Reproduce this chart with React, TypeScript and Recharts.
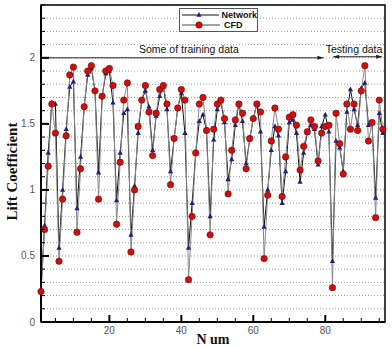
import React from "react";
import {
  LineChart,
  Line,
  XAxis,
  YAxis,
  CartesianGrid,
  ReferenceLine,
  ReferenceArea,
  ReferenceDot,
  Legend,
  Label,
} from "recharts";

// CFD results (red circles)
const cfd = [
  0.23, 0.7, 1.18, 1.65, 1.43, 0.46, 0.93, 1.41, 1.87, 1.93,
  0.68, 1.16, 1.63, 1.9, 1.94, 1.75, 0.93, 1.71, 1.9, 1.92,
  1.79, 0.74, 1.21, 1.68, 1.81, 0.53, 1.0, 1.48, 1.68, 1.79,
  1.59, 1.26, 1.58, 1.76, 1.79, 1.65, 1.04, 1.39, 1.62, 1.76,
  1.68, 0.32, 0.8, 1.28, 1.65, 1.7, 1.45, 0.66, 1.46, 1.65,
  1.68, 1.54, 0.97, 1.3, 1.53, 1.65, 1.58, 1.16, 1.39, 1.54,
  1.65, 1.59, 0.48, 0.96, 1.37, 1.62, 1.46, 0.95, 1.25, 1.55,
  1.57, 1.49, 1.15, 1.33, 1.44, 1.53, 1.48, 1.22, 1.43, 1.48,
  1.49, 0.26, 1.58, 1.35, 1.12, 1.65, 1.46, 1.65, 1.45, 1.75,
  1.94, 1.37, 1.51, 0.79, 1.68, 1.46,
];

// network predictions (blue triangles)
const network = [
  0.25, 0.73, 1.28, 1.66, 1.65, 0.56, 1.0, 1.46, 1.78, 1.82,
  0.86, 1.25, 1.63, 1.87, 1.92, 1.75, 1.13, 1.71, 1.88, 1.9,
  1.66, 0.92, 1.28, 1.58, 1.61, 0.66, 1.03, 1.43, 1.68, 1.75,
  1.63, 1.3, 1.56, 1.71, 1.78, 1.61, 1.14, 1.39, 1.62, 1.73,
  1.43, 0.56, 0.9, 1.28, 1.52, 1.57, 1.45, 0.8, 1.38, 1.61,
  1.67, 1.51, 1.08, 1.23, 1.49, 1.65, 1.52, 1.2, 1.38, 1.54,
  1.65, 1.44, 0.72, 1.0, 1.3, 1.48, 1.41, 0.9, 1.14, 1.51,
  1.53, 1.43, 1.06, 1.28, 1.43, 1.49, 1.46, 1.19, 1.48, 1.57,
  1.44, 0.46, 1.37, 1.32, 1.14, 1.59, 1.76, 1.61, 1.49, 1.77,
  1.81, 1.49, 1.51, 0.94, 1.58, 1.43,
];

const nums = cfd.map((_, i) => i + 1);

const xTicks = [5, 10, 15, 20, 25, 30, 35, 40, 45, 50, 55, 60, 65, 70, 75, 80, 85, 90, 95];
const xLabels = [20, 40, 60, 80];
const yTicks = [
  0, 0.1, 0.2, 0.3, 0.4, 0.5, 0.6, 0.7, 0.8, 0.9, 1, 1.1, 1.2,
  1.3, 1.4, 1.5, 1.6, 1.7, 1.8, 1.9, 2, 2.1, 2.2, 2.3, 2.4,
];
const yLabels = [0, 0.5, 1, 1.5, 2];

const data = nums.map((num, i) => ({ num, network: network[i], cfd: cfd[i] }));

const SANS = "'Liberation Sans', Arial, sans-serif";
const SERIF = "'Liberation Serif', 'Times New Roman', serif";

const XTick = (props: any) => {
  const { x, y, payload } = props;
  const major = xLabels.includes(payload.value);
  return (
    <g>
      <line x1={x} x2={x} y1={y} y2={y - (major ? 7 : 4)} stroke="#000" strokeWidth={major ? 2 : 1} />
      {major && (
        <text x={x} y={y + 12} textAnchor="middle" fontSize={10} fill="#555" fontFamily={SANS}>
          {payload.value}
        </text>
      )}
    </g>
  );
};

const YTick = (props: any) => {
  const { x, y, payload } = props;
  const major = yLabels.includes(payload.value);
  return (
    <g>
      <line x1={x} x2={x + (major ? 8 : 4)} y1={y} y2={y} stroke="#000" strokeWidth={major ? 2 : 1} />
      {major && (
        <text x={x - 6} y={y + 3.5} textAnchor="end" fontSize={10} fill="#555" fontFamily={SANS}>
          {payload.value}
        </text>
      )}
    </g>
  );
};

const Triangle = (props: any) => {
  const { cx, cy, index } = props;
  if (cx == null || cy == null) return <g key={`t-${index}`} />;
  return (
    <path
      key={`t-${index}`}
      d={`M${cx},${cy - 3} L${cx + 2.6},${cy + 1.8} L${cx - 2.6},${cy + 1.8} Z`}
      fill="#1f1f80"
    />
  );
};

const RedDot = (props: any) => {
  const { cx, cy, index } = props;
  if (cx == null || cy == null) return <g key={`c-${index}`} />;
  return <circle key={`c-${index}`} cx={cx} cy={cy} r={3.2} fill="#cc1010" stroke="#700" strokeWidth={0.6} />;
};

const arrowHead = (x: number, y: number, dir: number) =>
  `M${x},${y} L${x - dir * 6},${y - 2} L${x - dir * 6},${y + 2} Z`;

const TrainArrow = (p: any) => (
  <g>
    <line x1={p.x1} y1={p.y1} x2={p.x2} y2={p.y2} stroke="#222" strokeWidth={1} />
    <path d={arrowHead(p.x2, p.y2, 1)} fill="#222" />
  </g>
);

const TestArrow = (p: any) => (
  <g>
    <line x1={p.x1} y1={p.y1} x2={p.x2} y2={p.y2} stroke="#222" strokeWidth={1} />
    <path d={arrowHead(p.x1, p.y1, -1)} fill="#222" />
    <path d={arrowHead(p.x2, p.y2, 1)} fill="#222" />
  </g>
);

const noteLabel = (text: string) => (p: any) => {
  const vb = p.viewBox;
  return (
    <text x={vb.x + vb.width / 2} y={vb.y + vb.height / 2 - 5} textAnchor="middle" fontSize={10.5} fill="#111" fontFamily={SANS}>
      {text}
    </text>
  );
};

const LegendBox = () => {
  const rows = [
    { name: "Network", stroke: "#111", mark: "tri" },
    { name: "CFD", stroke: "#444", mark: "dot" },
  ];
  return (
    <div style={{ border: "1px solid #555", background: "#fff", width: 77, padding: "1px 0", fontFamily: SANS }}>
      {rows.map((r) => (
        <div key={r.name} style={{ display: "flex", alignItems: "center", height: 10 }}>
          <svg width={42} height={10}>
            <line x1={2} x2={40} y1={5} y2={5} stroke={r.stroke} strokeWidth={1} />
            {r.mark === "tri" ? (
              <path d="M19,2 L21.6,6.8 L16.4,6.8 Z" fill="#1f1f80" />
            ) : (
              <circle cx={19} cy={5} r={3.2} fill="#cc1010" stroke="#700" strokeWidth={0.6} />
            )}
          </svg>
          <span style={{ fontSize: 9, fontWeight: "bold", color: "#111", marginLeft: 2 }}>{r.name}</span>
        </div>
      ))}
    </div>
  );
};

export default function App() {
  return (
    <div style={{ position: "absolute", left: 0, top: 0, background: "#fff" }}>
      <LineChart width={392} height={348} data={data} margin={{ top: 5, right: 7, bottom: 0, left: 0 }}>
        <CartesianGrid vertical={false} stroke="#999" strokeDasharray="1 2" />
        <XAxis
          dataKey="num"
          type="number"
          domain={[1, 96.6]}
          ticks={xTicks}
          interval={0}
          tick={<XTick />}
          tickLine={false}
          tickSize={0}
          tickMargin={0}
          axisLine={{ stroke: "#000", strokeWidth: 2 }}
          height={26}
        >
          <Label
            content={(p: any) => (
              <text
                x={p.viewBox.x + p.viewBox.width / 2}
                y={p.viewBox.y + 22}
                textAnchor="middle"
                fontSize={14}
                fontWeight="bold"
                fontFamily={SERIF}
                fill="#111"
              >
                N um
              </text>
            )}
          />
        </XAxis>
        <YAxis
          type="number"
          domain={[0, 2.4]}
          ticks={yTicks}
          interval={0}
          tick={<YTick />}
          tickLine={false}
          tickSize={0}
          tickMargin={0}
          axisLine={{ stroke: "#000", strokeWidth: 2 }}
          width={41}
        >
          <Label
            content={(p: any) => {
              const cx = 12;
              const cy = p.viewBox.y + p.viewBox.height / 2 + 8;
              return (
                <text
                  x={cx}
                  y={cy}
                  transform={`rotate(-90 ${cx} ${cy})`}
                  textAnchor="middle"
                  dominantBaseline="central"
                  fontSize={15}
                  fontWeight="bold"
                  fontFamily={SERIF}
                  fill="#111"
                >
                  Lift Coefficient
                </text>
              );
            }}
          />
        </YAxis>
        <ReferenceArea x1={1} x2={96.6} y1={0} y2={2.4} fill="none" stroke="#000" strokeWidth={1.5} />
        <ReferenceLine segment={[{ x: 1, y: 2 }, { x: 79.5, y: 2 }]} shape={<TrainArrow />} />
        <ReferenceLine segment={[{ x: 82.2, y: 2.008 }, { x: 95.8, y: 2.008 }]} shape={<TestArrow />} />
        <ReferenceDot x={42.1} y={2} r={1} fill="none" stroke="none" label={noteLabel("Some of training data")} />
        <ReferenceDot x={88} y={2} r={1} fill="none" stroke="none" label={noteLabel("Testing data")} />
        <Legend
          layout="horizontal"
          verticalAlign="middle"
          align="center"
          wrapperStyle={{ left: 179, top: 8, width: 79 }}
          content={<LegendBox />}
        />
        <Line
          dataKey="network"
          name="Network"
          stroke="#111"
          strokeWidth={1}
          dot={Triangle}
          activeDot={false}
          isAnimationActive={false}
        />
        <Line
          dataKey="cfd"
          name="CFD"
          stroke="#888"
          strokeWidth={1}
          dot={RedDot}
          activeDot={false}
          isAnimationActive={false}
        />
      </LineChart>
    </div>
  );
}
